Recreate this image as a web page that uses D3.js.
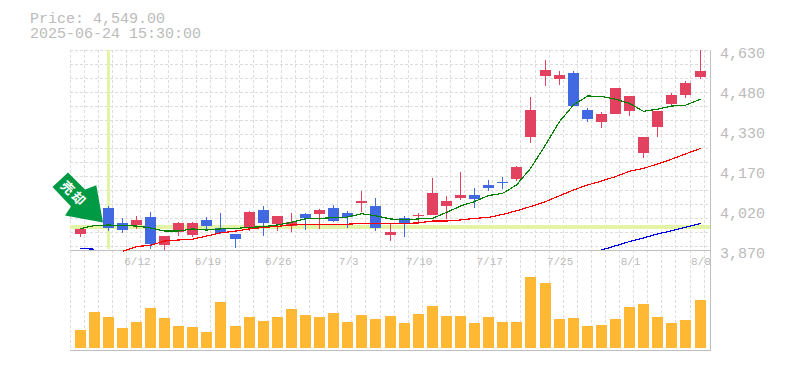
<!DOCTYPE html>
<html>
<head>
<meta charset="utf-8">
<style>
  html, body { margin: 0; padding: 0; background: #fff; overflow: hidden; }
  svg { display: block; }
  text { font-family: "Liberation Mono", monospace; fill: #bbb; }
</style>
</head>
<body>
<div id="chart"></div>
<script src="https://cdn.jsdelivr.net/npm/d3@7"></script>
<script>
// values
var dates = ["6/6","6/9","6/10","6/11","6/12","6/13","6/16","6/17","6/18","6/19",
  "6/20","6/23","6/24","6/25","6/26","6/27","6/30","7/1","7/2","7/3",
  "7/4","7/7","7/8","7/9","7/10","7/11","7/14","7/15","7/16","7/17",
  "7/18","7/22","7/23","7/24","7/25","7/28","7/29","7/30","7/31","8/1",
  "8/4","8/5","8/6","8/7","8/8"];
var opens = [3932,3992,4031,3973,3965,3995,3889,3940,3927,3984,
  3954,3931,3957,4022,3969,3961,4007,4007,4030,4011,
  4049,4037,3927,3992,4000,4003,4037,4068,4079,4117,
  4128,4140,4299,4531,4520,4543,4402,4356,4387,4398,
  4239,4337,4425,4459,4527];
var highs = [3950,4045,4037,3992,3999,4014,3923,3976,3976,3995,
  4011,3931,4018,4037,3999,4011,4011,4026,4041,4018,
  4094,4068,3973,3999,4011,4144,4075,4166,4106,4136,
  4147,4189,4451,4592,4550,4550,4410,4394,4486,4455,
  4299,4398,4467,4512,4660];
var lows = [3919,3988,3943,3935,3950,3874,3870,3923,3919,3942,
  3931,3878,3942,3923,3942,3938,3946,3950,3976,3954,
  4014,3942,3904,3919,3969,4003,3988,4060,4030,4094,
  4102,4132,4277,4493,4497,4417,4356,4334,4387,4379,
  4220,4299,4421,4448,4520];
var closes = [3950,4030,3955,3947,3984,3894,3923,3973,3973,3961,
  3935,3912,4014,3973,3999,3976,3992,4022,3980,3995,
  4056,3954,3938,3972,4004,4087,4056,4079,4064,4106,
  4125,4185,4402,4554,4535,4417,4368,4387,4486,4455,
  4299,4398,4459,4505,4550];
var volumes = [18,36,31,20,26,40,30,22,21,16,
  46,22,31,27,31,39,33,31,35,26,
  33,29,32,25,34,42,32,32,25,31,
  26,26,71,65,29,30,22,23,29,41,
  44,31,25,28,48];
var maShort = [3951,3963,3965,3963,3961,3954,3942,3942,3950,3946,
  3950,3952,3956,3959,3965,3975,3989,3990,3993,3995,
  4008,4000,3988,3985,3988,3990,4013,4037,4054,4077,
  4085,4117,4180,4269,4358,4421,4455,4454,4443,4427,
  4397,4405,4417,4420,4443];
var maMid = [null,null,null,3865,3883,3888,3904,3908,3911,3923,
  3935,3942,3950,3956,3960,3965,3968,3968,3968,3968,
  3971,3971,3971,3971,3973,3980,3980,3984,3990,3994,
  4005,4019,4035,4054,4076,4098,4117,4132,4149,4169,
  4180,4197,4215,4235,4256];
var maLong = [3876,3873,null,null,null,null,null,null,null,null,
  null,null,null,null,null,null,null,null,null,null,
  null,null,null,null,null,null,null,null,null,null,
  null,null,null,null,null,null,null,3870,3886,3902,
  3916,3931,3943,3956,3971];
var yTicks = [4630,4478,4326,4174,4022,3870];
var xTicks = ["6/12","6/19","6/26","7/3","7/10","7/17","7/25","8/1","8/8"];
var entryDate = "6/10";
var entryPrice = 3957;
var titleLines = ["Price: 4,549.00", "2025-06-24 15:30:00"];

var red = "#e2415f", blue = "#4169e1";

var svg = d3.select("#chart").append("svg")
    .attr("width", 785)
    .attr("height", 370);

// scales
var x = d3.scaleBand().domain(dates).range([75.05, 706.01]).paddingInner(0.2193);
var y = d3.scaleLinear().domain([3870, 4630]).range([250, 50]);
var yVol = d3.scaleLinear().domain([0, 80]).range([348, 268]);

function left(d) { return Math.floor(x(d)); }
function mid(d) { return Math.floor(x(d)) + 5.5; }

// title
svg.selectAll(".title").data(titleLines).enter().append("text")
    .attr("class", "title")
    .attr("x", 30)
    .attr("y", function(d, i) { return 23 + i * 15; })
    .style("font-size", "15px")
    .text(function(d) { return d; });

// gridlines
var grid = svg.append("g")
    .attr("stroke", "#ddd")
    .attr("stroke-dasharray", "3,2")
    .attr("shape-rendering", "crispEdges");
d3.range(0, 46).forEach(function(k) {
  var gx = Math.floor(70.05 + x.step() * k) + 0.5;
  grid.append("line").attr("x1", gx).attr("x2", gx).attr("y1", 50).attr("y2", 350);
});
d3.range(0, 15).forEach(function(k) {
  grid.append("line").attr("x1", 70).attr("x2", 710).attr("y1", 50.5 + 14 * k).attr("y2", 50.5 + 14 * k);
});

// entry highlight
svg.append("rect")
    .attr("x", Math.floor(mid(entryDate)) - 1)
    .attr("y", 50)
    .attr("width", 3)
    .attr("height", 199)
    .attr("fill", "#e3f4a6");
svg.append("rect")
    .attr("x", 70)
    .attr("y", Math.round(y(entryPrice)) - 2)
    .attr("width", 640)
    .attr("height", 4)
    .attr("fill", "#e3f4a6");

// frame
svg.append("path")
    .attr("d", "M70,250.5H710.5M70,350.5H710.5M710.5,50V351")
    .attr("fill", "none")
    .attr("stroke", "#c0c0c0")
    .attr("shape-rendering", "crispEdges");

// axes
var yAxis = svg.append("g")
    .attr("transform", "translate(710,0)")
    .call(d3.axisRight(y).tickValues(yTicks).tickSize(0).tickPadding(10)
      .tickFormat(function(d) { return d3.format(",")(Math.round(d / 10) * 10); }));
yAxis.select(".domain").remove();
yAxis.selectAll("text")
    .attr("dy", "7px")
    .style("font-size", "15px")
    .attr("fill", "#c8c8c8");

var xAxis = svg.append("g")
    .attr("transform", "translate(0.5,250)")
    .call(d3.axisBottom(x).tickValues(xTicks).tickSize(0).tickPadding(7));
xAxis.select(".domain").remove();
xAxis.selectAll("text")
    .style("font-size", "11px")
    .attr("fill", "#c0c0c0");

// everything in the price panel is clipped
svg.append("clipPath").attr("id", "plot").append("rect")
    .attr("x", 70).attr("y", 50).attr("width", 640).attr("height", 202);
var plot = svg.append("g").attr("clip-path", "url(#plot)");

// candles
var candles = plot.selectAll(".candle").data(dates).enter().append("g")
    .attr("class", "candle")
    .attr("shape-rendering", "crispEdges");
function candleColor(d, i) { return closes[i] >= opens[i] ? red : blue; }
candles.append("line")
    .attr("x1", mid).attr("x2", mid)
    .attr("y1", function(d, i) { return Math.round(y(highs[i])); })
    .attr("y2", function(d, i) { return Math.round(y(lows[i])); })
    .attr("stroke", candleColor);
candles.append("rect")
    .attr("x", left)
    .attr("y", function(d, i) { return Math.round(y(Math.max(opens[i], closes[i]))); })
    .attr("width", 11)
    .attr("height", function(d, i) {
      return Math.max(1, Math.round(y(Math.min(opens[i], closes[i]))) - Math.round(y(Math.max(opens[i], closes[i]))));
    })
    .attr("fill", candleColor);

// moving averages
function maLine(values, color) {
  var line = d3.line()
      .defined(function(d, i) { return values[i] !== null; })
      .x(function(d) { return mid(d); })
      .y(function(d, i) { return y(values[i]); });
  plot.append("path")
      .datum(dates)
      .attr("fill", "none")
      .attr("stroke", color)
      .attr("stroke-width", 1.2)
      .attr("shape-rendering", "crispEdges")
      .attr("d", line);
}
maLine(maLong, "#0000e0");
maLine(maMid, "#ff0000");
maLine(maShort, "#007f00");

// volume
svg.selectAll(".vol").data(dates).enter().append("rect")
    .attr("class", "vol")
    .attr("x", left)
    .attr("y", function(d, i) { return yVol(volumes[i]); })
    .attr("width", 11)
    .attr("height", function(d, i) { return yVol(0) - yVol(volumes[i]); })
    .attr("fill", "#ffb833");

// arrow marker, tip sits on the entry candle
var arrow = svg.append("g")
    .attr("transform", "translate(" + (mid(entryDate) - 5.5) + "," + (y(entryPrice) - 4.5) + ")");
arrow.append("path")
    .attr("d", "M0,0L-6.7,-37.3L-18,-33L-35,-50L-50.5,-35.5L-32,-16L-38,-7Z")
    .attr("fill", "#009944");
arrow.append("text")
    .attr("transform", "translate(-29,-29) rotate(45)")
    .attr("text-anchor", "middle")
    .attr("dy", "5px")
    .style("font-family", '"Noto Sans CJK JP"')
    .style("font-size", "13px")
    .style("font-weight", "bold")
    .style("letter-spacing", "2px")
    .style("fill", "#fff")
    .text("売却");
</script>
</body>
</html>
